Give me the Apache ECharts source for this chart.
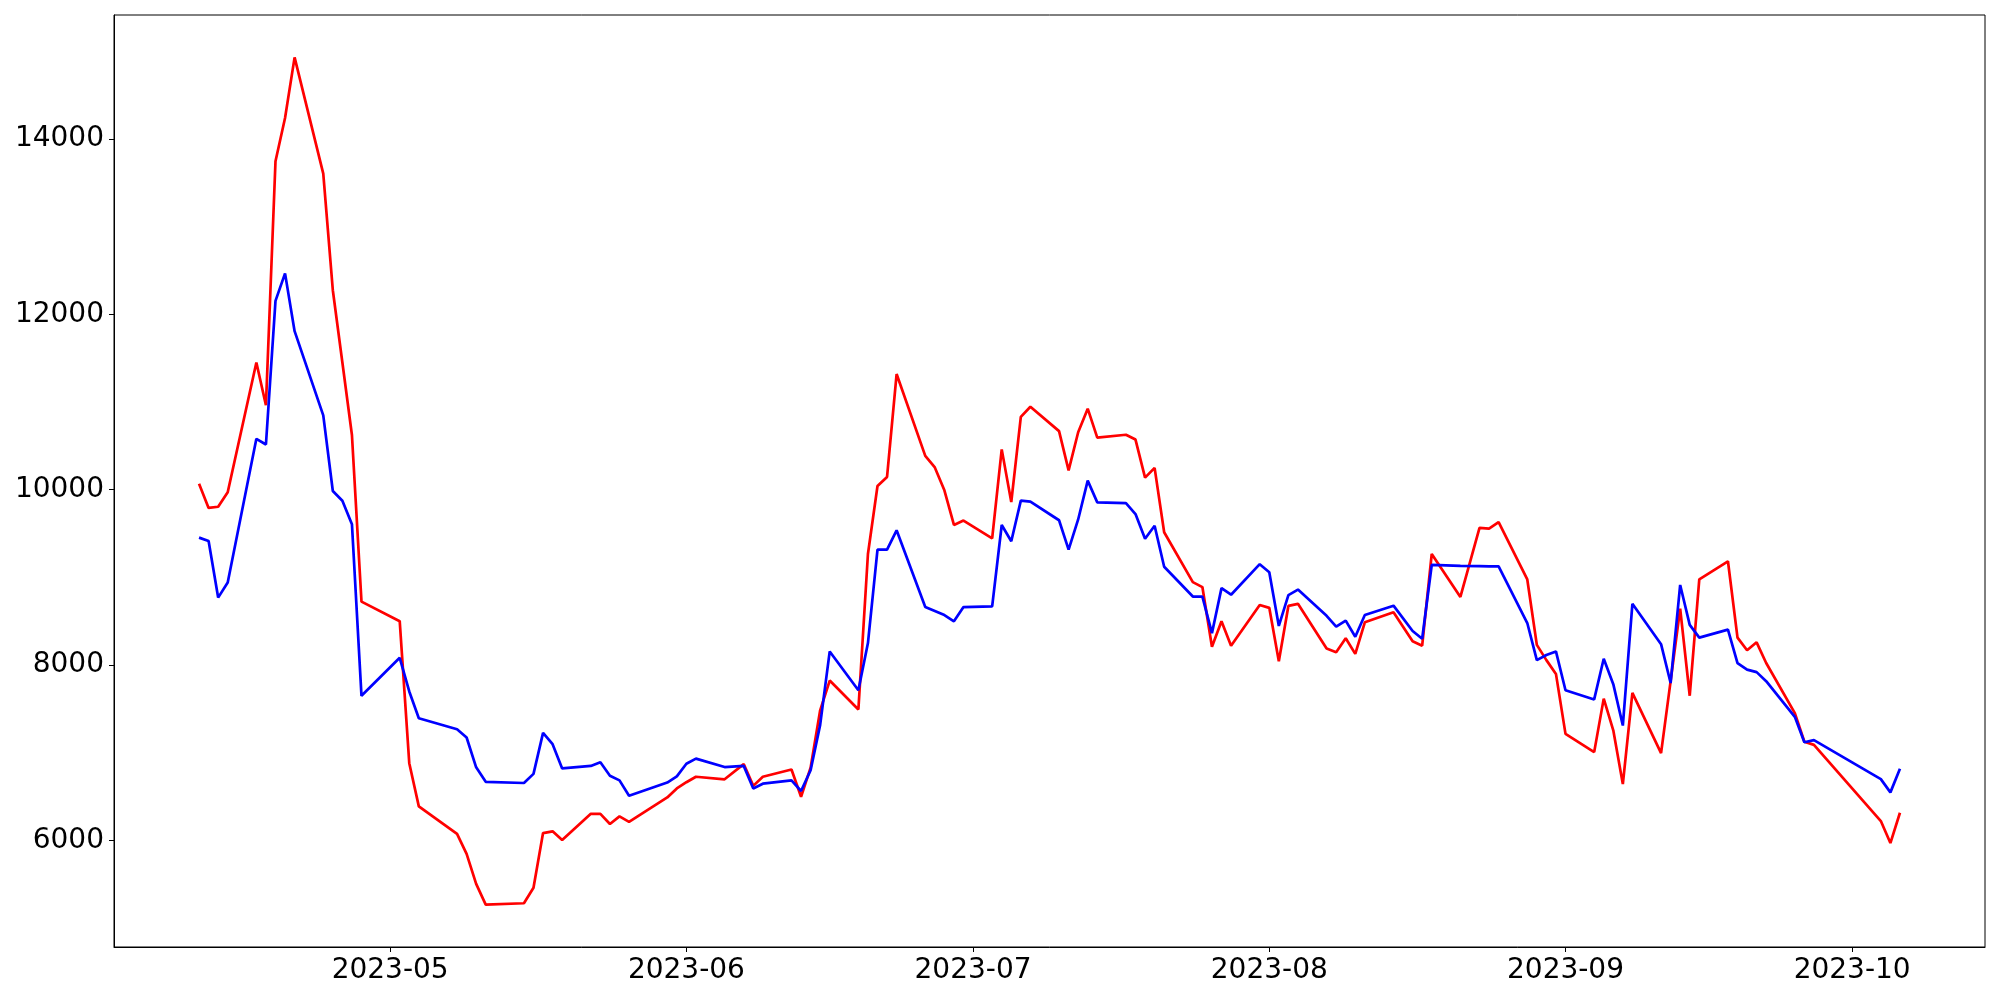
<!DOCTYPE html>
<html><head><meta charset="utf-8">
<script src="https://cdn.jsdelivr.net/npm/echarts@6/dist/echarts.min.js"></script>
<style>html,body{margin:0;padding:0;background:#fff}#c{width:2000px;height:1000px}</style>
</head><body><div id="c"></div>
<script>
const dates = [
'2023-04-11','2023-04-12','2023-04-13','2023-04-14','2023-04-17','2023-04-18','2023-04-19','2023-04-20','2023-04-21',
'2023-04-24','2023-04-25','2023-04-26','2023-04-27','2023-04-28','2023-05-02','2023-05-03','2023-05-04',
'2023-05-08','2023-05-09','2023-05-10','2023-05-11','2023-05-15','2023-05-16','2023-05-17','2023-05-18','2023-05-19',
'2023-05-22','2023-05-23','2023-05-24','2023-05-25','2023-05-26','2023-05-30','2023-05-31','2023-06-01','2023-06-02',
'2023-06-05','2023-06-07','2023-06-08','2023-06-09','2023-06-12','2023-06-13','2023-06-14','2023-06-15','2023-06-16',
'2023-06-19','2023-06-20','2023-06-21','2023-06-22','2023-06-23','2023-06-26','2023-06-27','2023-06-28','2023-06-29','2023-06-30',
'2023-07-03','2023-07-04','2023-07-05','2023-07-06','2023-07-07','2023-07-10','2023-07-11','2023-07-12','2023-07-13','2023-07-14',
'2023-07-17','2023-07-18','2023-07-19','2023-07-20','2023-07-21','2023-07-24','2023-07-25','2023-07-26','2023-07-27','2023-07-28',
'2023-07-31','2023-08-01','2023-08-02','2023-08-03','2023-08-04','2023-08-07','2023-08-08','2023-08-09','2023-08-10','2023-08-11',
'2023-08-14','2023-08-16','2023-08-17','2023-08-18','2023-08-21','2023-08-23','2023-08-24','2023-08-25',
'2023-08-28','2023-08-29','2023-08-30','2023-08-31','2023-09-01','2023-09-04','2023-09-05','2023-09-06','2023-09-07','2023-09-08',
'2023-09-11','2023-09-12','2023-09-13','2023-09-14','2023-09-15','2023-09-18','2023-09-19','2023-09-20','2023-09-21','2023-09-22',
'2023-09-25','2023-09-26','2023-09-27','2023-10-04','2023-10-05','2023-10-06'
];
const redValues = [
10067,9792,9805,9971,11449,10962,13745,14238,14929,
13604,12274,11450,10623,8723,8500,6881,6388,
6075,5847,5504,5268,5284,5461,6084,6104,6005,
6303,6303,6188,6274,6212,6490,6593,6664,6726,
6697,6870,6622,6726,6809,6498,6830,7484,7823,
7493,9266,10041,10145,11318,10385,10253,9992,9597,9647,
9445,10459,9858,10829,10945,10667,10219,10654,10923,10593,
10626,10571,10137,10248,9514,8946,8889,8209,8499,8221,
8685,8652,8043,8674,8698,8188,8147,8305,8127,8487,
8603,8271,8221,9266,8777,9564,9556,9630,
8976,8230,8056,7899,7215,7007,7617,7256,6642,7683,
6995,7816,8644,7650,8976,9183,8313,8168,8259,8023,
7451,7125,7090,6221,5970,6316
];
const blueValues = [
9453,9414,8769,8941,10579,10515,12152,12466,11807,
10847,9984,9874,9606,7649,8083,7699,7393,
7268,7174,6834,6668,6655,6759,7227,7098,6821,
6850,6891,6738,6685,6510,6660,6730,6875,6933,
6837,6850,6593,6647,6685,6564,6801,7318,8155,
7712,8251,9316,9316,9536,8661,8616,8570,8499,8661,
8669,9597,9411,9875,9863,9651,9316,9660,10103,9855,
9846,9722,9440,9589,9121,8781,8781,8363,8877,8802,
9150,9059,8446,8798,8860,8561,8437,8507,8322,8570,
8677,8388,8300,9141,9130,9128,9126,9125,
8479,8056,8114,8155,7712,7608,8072,7782,7310,8698,
8238,7795,8913,8458,8313,8404,8023,7948,7919,7816,
7410,7119,7144,6699,6548,6818
];
const yTicks = [6000, 8000, 10000, 12000, 14000];
const xTicks = ['2023-05-01','2023-06-01','2023-07-01','2023-08-01','2023-09-01','2023-10-01'];

function ts(s){const p=s.split('-').map(Number);return Date.UTC(p[0],p[1]-1,p[2]);}
const t0 = ts(dates[0]), t1 = ts(dates[dates.length-1]);
const xPad = 0.05*(t1-t0);
const allV = redValues.concat(blueValues);
const vMin = Math.min.apply(null, allV), vMax = Math.max.apply(null, allV);
const yPad = 0.05*(vMax-vMin);

const font = {fontFamily:'DejaVu Sans', fontSize:28, color:'#000'};
const chart = echarts.init(document.getElementById('c'), null, {renderer:'canvas'});
chart.setOption({
  animation:false,
  backgroundColor:'#fff',
  grid:{left:114, right:15, top:15, bottom:53, show:true, borderColor:'#000', borderWidth:1, containLabel:false},
  xAxis:{
    type:'value', min:t0-xPad, max:t1+xPad, scale:true,
    axisLine:{show:true, onZero:false, lineStyle:{color:'#000', width:1}},
    axisTick:{show:true, length:5, lineStyle:{color:'#000'}, customValues:xTicks.map(ts)},
    axisLabel:Object.assign({margin:10, hideOverlap:false, customValues:xTicks.map(ts),
      formatter:function(v){const d=new Date(v);return d.getUTCFullYear()+'-'+String(d.getUTCMonth()+1).padStart(2,'0');}}, font),
    splitLine:{show:false}
  },
  yAxis:{
    type:'value', min:vMin-yPad, max:vMax+yPad, scale:true,
    axisLine:{show:true, onZero:false, lineStyle:{color:'#000', width:1}},
    axisTick:{show:true, length:5, lineStyle:{color:'#000'}, customValues:yTicks},
    axisLabel:Object.assign({margin:10, customValues:yTicks, formatter:function(v){return String(v);}}, font),
    splitLine:{show:false}
  },
  series:[
    {type:'line', data:dates.map((d,i)=>[ts(d), redValues[i]]), showSymbol:false, lineStyle:{color:'#ff0000', width:2.7}, itemStyle:{color:'#ff0000'}},
    {type:'line', data:dates.map((d,i)=>[ts(d), blueValues[i]]), showSymbol:false, lineStyle:{color:'#0000ff', width:2.7}, itemStyle:{color:'#0000ff'}}
  ]
});
</script></body></html>
